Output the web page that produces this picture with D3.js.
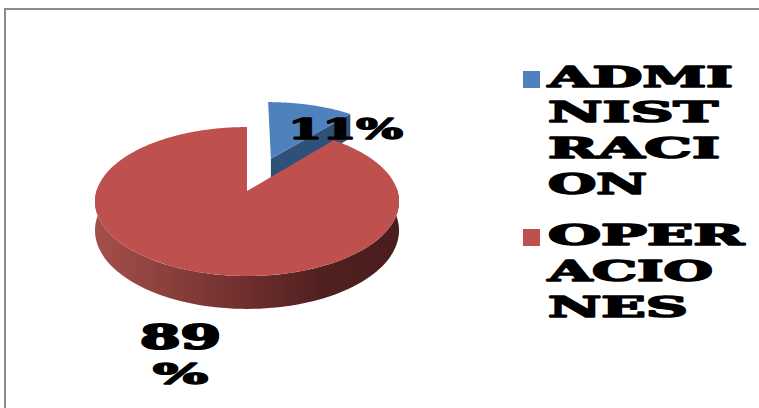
<!DOCTYPE html>
<html>
<head>
<meta charset="utf-8">
<script src="https://cdn.jsdelivr.net/npm/d3@7"></script>
<style>
html, body { margin: 0; padding: 0; background: #fff; overflow: hidden; }
svg { display: block; }
text { font-family: "DejaVu Serif", serif; font-weight: 700; fill: #000; stroke: #000; stroke-linejoin: round; }
</style>
</head>
<body>
<svg id="chart" width="759" height="408"></svg>
<script>
// Cost split by area
const categories = ["ADMINISTRACION", "OPERACIONES"];
const shares = [11, 89];
const topColors = ["#4f81bd", "#be504d"];
const wallColors = ["#2f5078"];
const legendLines = [["ADMI", "NIST", "RACI", "ON"], ["OPER", "ACIO", "NES"]];
const valueLabelLines = [["11%"], ["89", "%"]];

const svg = d3.select("#chart");

// Projected pie: a tilted disc with foreshortening toward the back
const cx = 247, cy = 191, rx = 150.5, ry = 73, persp = 0.141, depth = 28.3;
const project = (x, y, drop = 0) => {
  const w = 1 - persp * y;
  return [cx + rx * x / w, cy + (ry * y + drop * depth) / w];
};

const arcs = d3.pie().sort(null).value(d => d)(shares);
const explode = 0.5;
const samples = a0 => a1 => d3.range(0, 91).map(i => a0 + (a1 - a0) * i / 90);
const line = d3.line();

// Rim point at angle t (clockwise from the top), with optional radial offset
const rim = (t, off = [0, 0]) => [Math.sin(t) + off[0], -Math.cos(t) + off[1]];

// Horizontal shading of the outer wall
const defs = svg.append("defs");
const wallGrad = defs.append("linearGradient").attr("id", "wallGrad")
  .attr("gradientUnits", "userSpaceOnUse")
  .attr("x1", 93).attr("x2", 397).attr("y1", 0).attr("y2", 0);
[[0, "#a64f4c"], [0.25, "#8a403d"], [0.5, "#6f2f2d"], [0.75, "#502120"], [1, "#4a1c1b"]]
  .forEach(([o, c]) => wallGrad.append("stop").attr("offset", o).attr("stop-color", c));

// Frame of the chart area
svg.append("path").attr("d", "M5 408V9H759").attr("fill", "none")
  .attr("stroke", "#8b8b8b").attr("stroke-width", 2);

// Exploded slice
{
  const a = arcs[0];
  const mid = (a.startAngle + a.endAngle) / 2;
  const off = [Math.sin(mid) * explode, -Math.cos(mid) * explode];
  const apexTop = project(off[0], off[1]);
  const apexBot = project(off[0], off[1], 1);
  const rimPts = samples(a.startAngle)(a.endAngle).map(t => {
    const p = rim(t, off);
    return project(p[0], p[1]);
  });
  const end = rim(a.endAngle, off);
  svg.append("path")
    .attr("d", line([apexTop, project(end[0], end[1]), project(end[0], end[1], 1), apexBot]) + "Z")
    .attr("fill", wallColors[0]);
  svg.append("path")
    .attr("d", line([apexTop, ...rimPts]) + "Z")
    .attr("fill", topColors[0]);
}

// Main slice
{
  const a = arcs[1];
  const sweep = samples(a.startAngle)(a.endAngle).length;
  const front = samples(Math.PI * 0.5 - 0.05)(Math.PI * 1.5 + 0.05).map(t => {
    const p = rim(t);
    return p;
  });
  const wallPts = [
    ...front.map(p => project(p[0], p[1])),
    ...front.slice().reverse().map(p => project(p[0], p[1], 1))
  ];
  svg.append("path").attr("d", line(wallPts) + "Z").attr("fill", "url(#wallGrad)");
  const topPts = d3.range(0, 361).map(i => a.startAngle + (a.endAngle - a.startAngle) * i / 360)
    .map(t => { const p = rim(t); return project(p[0], p[1]); });
  svg.append("path")
    .attr("d", line([project(0, 0), ...topPts]) + "Z")
    .attr("fill", topColors[1]);
}

// Heavy slab lettering: each line is stretched to its own width
const heavy = (x, y, str, width, size, sw) => svg.append("text")
  .attr("x", x).attr("y", y)
  .attr("font-size", size)
  .attr("stroke-width", sw)
  .attr("textLength", width)
  .attr("lengthAdjust", "spacingAndGlyphs")
  .text(str);

// Value labels
heavy(288, 139, valueLabelLines[0][0], 115, 28, 1.6);
heavy(140, 349, valueLabelLines[1][0], 81, 33, 2);
heavy(153, 384, valueLabelLines[1][1], 55, 28, 1.6);

// Legend
const legendY = d3.scaleOrdinal().domain(categories).range([71, 229]);
const legendRows = [
  [[87, 185], [122, 170], [158, 172], [194, 99]],
  [[245, 196], [281, 165], [317, 140]]
];
categories.forEach((c, i) => {
  svg.append("rect").attr("x", 523).attr("y", legendY(c))
    .attr("width", 17).attr("height", 17).attr("fill", topColors[i]);
  legendLines[i].forEach((str, j) => {
    heavy(548, legendRows[i][j][0], str, legendRows[i][j][1], 28, 1.6);
  });
});
</script>
</body>
</html>
